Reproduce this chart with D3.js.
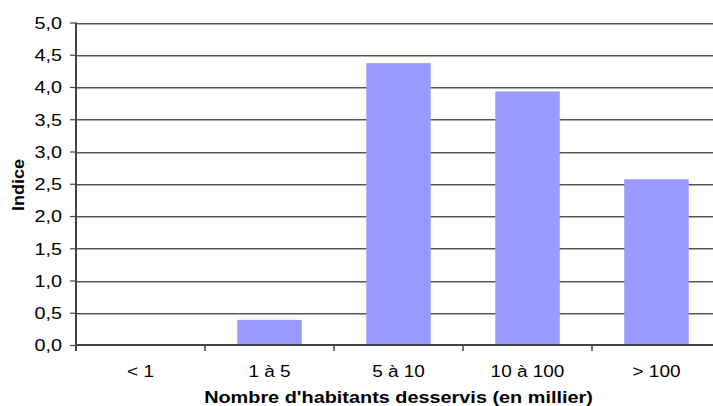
<!DOCTYPE html>
<html><head><meta charset="utf-8">
<script src="https://cdn.jsdelivr.net/npm/d3@7"></script>
<style>
html,body{margin:0;padding:0;background:#fff;}
text{font-family:"Liberation Sans",Arial,sans-serif;fill:#000;}
</style></head>
<body>
<svg id="c" width="713" height="406"></svg>
<script>
const categories = ["< 1", "1 à 5", "5 à 10", "10 à 100", "> 100"];
const values = [0, 0.39, 4.37, 3.93, 2.57];
const yTicks = [0, 0.5, 1, 1.5, 2, 2.5, 3, 3.5, 4, 4.5, 5];
const xTitle = "Nombre d'habitants desservis (en millier)";
const yTitle = "Indice";

(function () {
const svg = d3.select("#c");
const pLeft = 76, pRight = 721, pTop = 22.5, pBottom = 345;
const x = d3.scaleBand().domain(categories).range([pLeft, pRight]).paddingInner(0.5).paddingOuter(0.25);
const y = d3.scaleLinear().domain([0, 5]).range([pBottom, pTop]);
const step = x.step();

// gridlines
const grid = svg.append("g");
yTicks.filter(d => d > 0).forEach(d => {
  const yy = Math.round(y(d));
  grid.append("line").attr("x1", pLeft).attr("x2", 713).attr("y1", yy + 0.5).attr("y2", yy + 0.5)
    .attr("stroke", "#555").attr("stroke-width", 1);
  grid.append("line").attr("x1", pLeft).attr("x2", 713).attr("y1", yy + 1.5).attr("y2", yy + 1.5)
    .attr("stroke", "#aaa").attr("stroke-width", 1);
});

// bars
svg.append("g").selectAll("rect").data(categories).join("rect")
  .attr("x", d => x(d))
  .attr("width", x.bandwidth())
  .attr("y", (d, i) => y(values[i]))
  .attr("height", (d, i) => y(0) - y(values[i]))
  .attr("fill", "#9999ff");

// y axis
const ya = svg.append("g").attr("transform", `translate(${pLeft},0)`)
  .call(d3.axisLeft(y).tickValues(yTicks).tickSize(6).tickSizeOuter(0)
    .tickFormat(d => d.toFixed(1).replace(".", ",")));
ya.select(".domain").remove();
ya.selectAll(".tick line").attr("stroke", "#444").attr("stroke-width", 1.2);
ya.selectAll(".tick text").attr("x", 0).attr("dy", "0.35em")
  .attr("font-size", 16.5).attr("font-family", "Liberation Sans, Arial, sans-serif")
  .attr("fill", "#000")
  .attr("transform", "translate(-14,0) scale(1.2,1)");

// axis lines
svg.append("line").attr("x1", pLeft).attr("x2", pLeft).attr("y1", pTop).attr("y2", pBottom + 6)
  .attr("stroke", "#444").attr("stroke-width", 2);
svg.append("line").attr("x1", pLeft).attr("x2", 713).attr("y1", pBottom).attr("y2", pBottom)
  .attr("stroke", "#444").attr("stroke-width", 2);

// category boundary ticks
categories.forEach(d => {
  const bx = Math.round(x(d) - step * 0.25);
  svg.append("line").attr("x1", bx).attr("x2", bx).attr("y1", pBottom).attr("y2", pBottom + 6)
    .attr("stroke", "#444").attr("stroke-width", 1.5);
});

// x labels
svg.append("g").selectAll("text").data(categories).join("text")
  .attr("text-anchor", "middle").attr("font-size", 16.5)
  .attr("transform", d => `translate(${x(d) + x.bandwidth() / 2},377) scale(1.15,1)`)
  .text(d => d);

// x title
const xt = svg.append("text").attr("text-anchor", "middle").attr("font-size", 16.5)
  .attr("font-weight", "bold").text(xTitle);
const nat = xt.node().getComputedTextLength();
xt.attr("transform", `translate(398.5,403) scale(${389 / nat},1)`);

// y title
const yt = svg.append("text").attr("text-anchor", "middle").attr("font-size", 16)
  .attr("font-weight", "bold").text(yTitle);
const natY = yt.node().getComputedTextLength();
yt.attr("transform", `translate(24,185) rotate(-90) scale(${52 / natY},1)`);
})();
</script>
</body></html>
